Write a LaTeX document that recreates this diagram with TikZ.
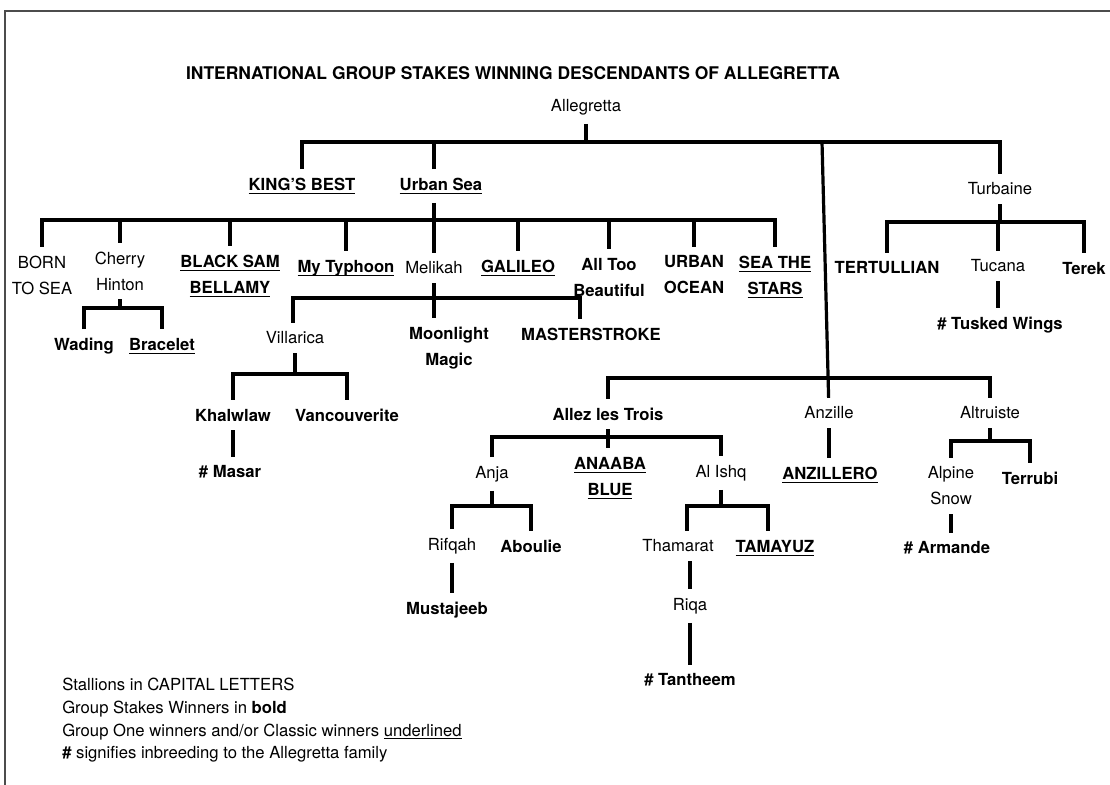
\documentclass[tikz,border=0pt]{standalone}
\usepackage{fontspec}
\setmainfont{TeX Gyre Heros}
\newcommand\uln[1]{\setbox0=\hbox{#1}\leavevmode\rlap{\rule[-2.6pt]{\wd0}{0.8pt}}\box0}
\tikzset{
  lbl/.style={inner ysep=6.5pt, inner xsep=2pt, align=center, font=\fontsize{12.5}{19.5}\selectfont},
  bl/.style={lbl, font=\fontsize{12.5}{19.5}\selectfont\bfseries},
  br/.style={line width=2.4pt, line join=miter},
  leg/.style={anchor=base west, inner sep=0pt, font=\fontsize{12.5}{15}\selectfont},
}
\begin{document}
\begin{tikzpicture}[x=0.75pt,y=-0.75pt]
\useasboundingbox (0,0) rectangle (1110,785);
\draw[line width=1.5pt, black!70] (5,785) -- (5,11) -- (1110,11);

\node[inner sep=0pt, font=\fontsize{13.1}{15}\selectfont\bfseries] (title) at (513,73) {INTERNATIONAL GROUP STAKES WINNING DESCENDANTS OF ALLEGRETTA};

% generation 0/1
\node[lbl] (alleg) at (586,107) {Allegretta};
\node[bl] (kb) at (302,186) {\uln{KING’S BEST}};
\node[bl] (us) at (441,186) {\uln{Urban Sea}};
\node[lbl] (turb) at (1000,189) {Turbaine};

% generation 2 (Urban Sea)
\node[lbl] (born) at (42,275) {BORN\\TO SEA};
\node[lbl] (cher) at (120,271) {Cherry\\Hinton};
\node[bl] (bsb) at (230,276) {\uln{BLACK SAM}\\\uln{BELLAMY}};
\node[bl] (myt) at (346,268) {\uln{My Typhoon}};
\node[lbl] (mel) at (434,268) {Melikah};
\node[bl] (gal) at (518,268) {\uln{GALILEO}};
\node[bl] (att) at (609,277) {All Too\\Beautiful};
\node[bl] (uo) at (694,275) {URBAN\\OCEAN};
\node[bl] (sts) at (775,277) {\uln{SEA THE}\\\uln{STARS}};

% Turbaine
\node[bl] (tert) at (887,268) {TERTULLIAN};
\node[lbl] (tuc) at (998,266) {Tucana};
\node[bl] (terek) at (1084,268) {Terek};
\node[bl] (tw) at (1000,325) {\# Tusked Wings};

% Cherry Hinton
\node[bl] (wad) at (84,346) {Wading};
\node[bl] (brac) at (162,346) {\uln{Bracelet}};

% Melikah
\node[lbl] (vil) at (295,338) {Villarica};
\node[bl] (moon) at (449,348) {Moonlight\\Magic};
\node[bl] (mast) at (591,334) {MASTERSTROKE};
\node[bl] (khal) at (233,415) {Khalwlaw};
\node[bl] (vanc) at (347,415) {Vancouverite};
\node[bl] (masar) at (230,472) {\# Masar};

% long branch
\node[bl] (allez) at (608,414) {Allez les Trois};
\node[lbl] (anz) at (829,413) {Anzille};
\node[lbl] (alt) at (990,413) {Altruiste};
\node[lbl] (anja) at (492,474) {Anja};
\node[bl] (ana) at (610,478) {\uln{ANAABA}\\\uln{BLUE}};
\node[lbl] (ali) at (721,473) {Al Ishq};
\node[bl] (anzo) at (830,475) {\uln{ANZILLERO}};
\node[lbl] (alp) at (951,486) {Alpine\\Snow};
\node[bl] (terr) at (1030,478) {Terrubi};
\node[bl] (arm) at (947,548) {\# Armande};
\node[lbl] (rif) at (452,546) {Rifqah};
\node[bl] (abo) at (531,546) {Aboulie};
\node[bl] (must) at (447,610) {Mustajeeb};
\node[lbl] (tham) at (678,546) {Thamarat};
\node[bl] (tam) at (775,548) {\uln{TAMAYUZ}};
\node[lbl] (riqa) at (690,606) {Riqa};
\node[bl] (tant) at (690,680) {\# Tantheem};

% legend
\node[leg] (l1) at (62,690) {Stallions in CAPITAL LETTERS};
\node[leg] (l2) at (62,713) {Group Stakes Winners in \textbf{bold}};
\node[leg] (l3) at (62,736) {Group One winners and/or Classic winners \uln{underlined}};
\node[leg] (l4) at (62,758) {\textbf{\#} signifies inbreeding to the Allegretta family};

% bar coordinates
\coordinate (A) at (0,142);
\coordinate (L) at (822,142);
\coordinate (B) at (0,220);
\coordinate (T) at (0,222);
\coordinate (C) at (0,308);
\coordinate (M1) at (293,298);
\coordinate (M2) at (580,298);
\coordinate (V) at (0,374);
\coordinate (Z) at (0,378);
\coordinate (W) at (0,437);
\coordinate (X) at (0,441);
\coordinate (J) at (0,506);
\coordinate (Q1) at (687,506);
\coordinate (Q2) at (768,506);

% Allegretta
\draw[br] (alleg) -- (alleg |- A);
\draw[br] (kb) -- (kb |- A) -- (turb |- A) -- (turb);
\draw[br] (us.north -| mel) -- (mel |- A);
\draw[br] (L) -- (anz);

% Urban Sea
\draw[br] (us.south -| mel) -- (mel);
\draw[br] (born) -- (born |- B) -- (sts |- B) -- (sts);
\foreach \n in {cher,bsb,myt,gal,att,uo} \draw[br] (\n |- B) -- (\n);

% Turbaine
\draw[br] (turb) -- (turb |- T);
\draw[br] (tert) -- (tert |- T) -- (terek |- T) -- (terek);
\draw[br] (tuc |- T) -- (tuc);
\draw[br] (tuc) -- (tw.north -| tuc);

% Cherry Hinton
\draw[br] (cher) -- (cher |- C);
\draw[br] (wad) -- (wad |- C) -- (brac |- C) -- (brac);

% Melikah
\draw[br] (mel) -- (moon.north -| mel);
\draw[br] (vil.north -| M1) -- (M1) -- (M2) -- (mast.north -| M2);

% Villarica
\draw[br] (vil) -- (vil |- V);
\draw[br] (khal) -- (khal |- V) -- (vanc |- V) -- (vanc);
\draw[br] (khal) -- (masar.north -| khal);

% Allez bar
\draw[br] (allez) -- (allez |- Z) -- (alt |- Z) -- (alt);
\draw[br] (allez) -- (ana.north -| allez);
\draw[br] (anja) -- (anja |- W) -- (ali |- W) -- (ali);
\draw[br] (anz) -- (anzo.north -| anz);

% Altruiste
\draw[br] (alt) -- (alt |- X);
\draw[br] (alp) -- (alp |- X) -- (terr |- X) -- (terr);
\draw[br] (alp) -- (arm.north -| alp);

% Anja
\draw[br] (anja) -- (anja |- J);
\draw[br] (rif) -- (rif |- J) -- (abo |- J) -- (abo);
\draw[br] (rif) -- (must.north -| rif);

% Al Ishq
\draw[br] (ali) -- (ali |- J);
\draw[br] (tham.north -| Q1) -- (Q1) -- (Q2) -- (tam.north -| Q2);
\draw[br] (tham.south -| riqa) -- (riqa);
\draw[br] (riqa) -- (tant);
\end{tikzpicture}
\end{document}
